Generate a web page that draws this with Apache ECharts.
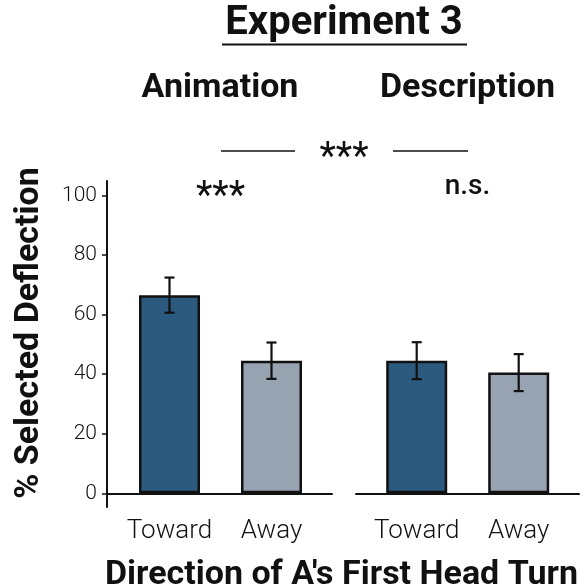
<!DOCTYPE html>
<html>
<head>
<meta charset="utf-8">
<script src="https://cdn.jsdelivr.net/npm/echarts@6/dist/echarts.min.js"></script>
<style>
  html, body { margin: 0; padding: 0; background: #fff; }
  #chart { width: 587px; height: 586px; }
</style>
</head>
<body>
<div id="chart"></div>
<script>
// Categories and values (percent choosing the deflection, mean ± error)
const directions = ['Toward', 'Away'];
const animationMeans = [66.5, 44.5];
const animationErrors = [5.9, 6.1];
const descriptionMeans = [44.5, 40.5];
const descriptionErrors = [6.2, 6.2];
const yTicks = [0, 20, 40, 60, 80, 100];

const FONT = 'Roboto, "Liberation Sans", sans-serif';
const INK = '#111';
const TOWARD_COLOR = '#2c5a7e';
const AWAY_COLOR = '#97a3b1';

const Y_MIN = -4.6, Y_MAX = 104.8;
const TOP = 181, BOTTOM = 79;

const chart = echarts.init(document.getElementById('chart'), null, { renderer: 'canvas' });

function barSeries(axisIndex, means) {
  return {
    type: 'bar',
    xAxisIndex: axisIndex,
    yAxisIndex: axisIndex,
    barWidth: 61,
    data: means.map((v, i) => ({
      value: v,
      itemStyle: { color: i === 0 ? TOWARD_COLOR : AWAY_COLOR }
    })),
    itemStyle: { borderColor: INK, borderWidth: 2.5 },
    silent: true,
    z: 2
  };
}

function errorSeries(axisIndex, means, errs) {
  return {
    type: 'custom',
    xAxisIndex: axisIndex,
    yAxisIndex: axisIndex,
    data: means.map((m, i) => [i, m, errs[i]]),
    renderItem(params, api) {
      const i = api.value(0), m = api.value(1), e = api.value(2);
      const hi = api.coord([i, m + e]);
      const lo = api.coord([i, m - e]);
      const half = 5;
      const style = { stroke: INK, lineWidth: 2.2 };
      return {
        type: 'group',
        children: [
          { type: 'line', shape: { x1: hi[0], y1: hi[1], x2: lo[0], y2: lo[1] }, style },
          { type: 'line', shape: { x1: hi[0] - half, y1: hi[1], x2: hi[0] + half, y2: hi[1] }, style },
          { type: 'line', shape: { x1: lo[0] - half, y1: lo[1], x2: lo[0] + half, y2: lo[1] }, style }
        ]
      };
    },
    z: 3
  };
}

const hiddenY = { type: 'value', min: Y_MIN, max: Y_MAX, show: false };
const lineOnlyX = (gridIndex) => ({
  type: 'value', gridIndex, min: 0, max: 1,
  axisLine: { show: true, onZero: true, lineStyle: { color: INK, width: 2 } },
  axisTick: { show: false }, axisLabel: { show: false }, splitLine: { show: false }
});
const labelX = (gridIndex) => ({
  type: 'category', gridIndex, data: directions,
  axisLine: { show: false }, axisTick: { show: false },
  axisLabel: {
    interval: 0, margin: 11, hideOverlap: false,
    fontFamily: FONT, fontWeight: 300, fontSize: 26, color: INK
  }
});

const option = {
  animation: false,
  backgroundColor: '#fff',
  grid: [
    { left: 107, width: 225, top: TOP, bottom: BOTTOM },   // left panel axes
    { left: 118.5, width: 204, top: TOP, bottom: BOTTOM }, // left panel bars
    { left: 356, width: 223, top: TOP, bottom: BOTTOM },   // right panel baseline
    { left: 365.7, width: 204, top: TOP, bottom: BOTTOM }  // right panel bars
  ],
  xAxis: [lineOnlyX(0), labelX(1), lineOnlyX(2), labelX(3)],
  yAxis: [
    {
      type: 'value', gridIndex: 0, min: Y_MIN, max: Y_MAX,
      axisLine: { show: true, lineStyle: { color: INK, width: 2 } },
      axisTick: { show: true, length: 5, customValues: yTicks, lineStyle: { color: INK, width: 1.5 } },
      axisLabel: {
        customValues: yTicks, margin: 10,
        fontFamily: FONT, fontWeight: 300, fontSize: 21, color: INK
      },
      splitLine: { show: false }
    },
    Object.assign({ gridIndex: 1 }, hiddenY),
    Object.assign({ gridIndex: 2 }, hiddenY),
    Object.assign({ gridIndex: 3 }, hiddenY)
  ],
  series: [
    barSeries(1, animationMeans),
    errorSeries(1, animationMeans, animationErrors),
    barSeries(3, descriptionMeans),
    errorSeries(3, descriptionMeans, descriptionErrors)
  ],
  graphic: [
    { type: 'text', x: 344, y: 24, style: { text: 'Experiment 3', font: `bold 40px ${FONT}`, fill: INK, textAlign: 'center', textVerticalAlign: 'middle' } },
    { type: 'line', shape: { x1: 222, y1: 44.5, x2: 467, y2: 44.5 }, style: { stroke: INK, lineWidth: 2 } },
    { type: 'text', x: 220, y: 88, style: { text: 'Animation', font: `bold 34px ${FONT}`, fill: INK, textAlign: 'center', textVerticalAlign: 'middle' } },
    { type: 'text', x: 467.5, y: 88, style: { text: 'Description', font: `bold 34px ${FONT}`, fill: INK, textAlign: 'center', textVerticalAlign: 'middle' } },
    { type: 'line', shape: { x1: 221, y1: 151, x2: 295, y2: 151 }, style: { stroke: INK, lineWidth: 1.5 } },
    { type: 'line', shape: { x1: 393, y1: 151, x2: 468, y2: 151 }, style: { stroke: INK, lineWidth: 1.5 } },
    { type: 'text', x: 344, y: 159, style: { text: '***', font: `400 38px ${FONT}`, fill: INK, textAlign: 'center', textVerticalAlign: 'middle' } },
    { type: 'text', x: 220.5, y: 198, style: { text: '***', font: `400 38px ${FONT}`, fill: INK, textAlign: 'center', textVerticalAlign: 'middle' } },
    { type: 'text', x: 467.5, y: 187, style: { text: 'n.s.', font: `500 28px ${FONT}`, fill: INK, textAlign: 'center', textVerticalAlign: 'middle' } },
    { type: 'text', x: 29, y: 333, rotation: Math.PI / 2, style: { text: '% Selected Deflection', font: `bold 34px ${FONT}`, fill: INK, textAlign: 'center', textVerticalAlign: 'middle' } },
    { type: 'text', x: 341.5, y: 575, style: { text: "Direction of A's First Head Turn", font: `bold 34px ${FONT}`, fill: INK, textAlign: 'center', textVerticalAlign: 'middle' } }
  ]
};

chart.setOption(option);
</script>
</body>
</html>
